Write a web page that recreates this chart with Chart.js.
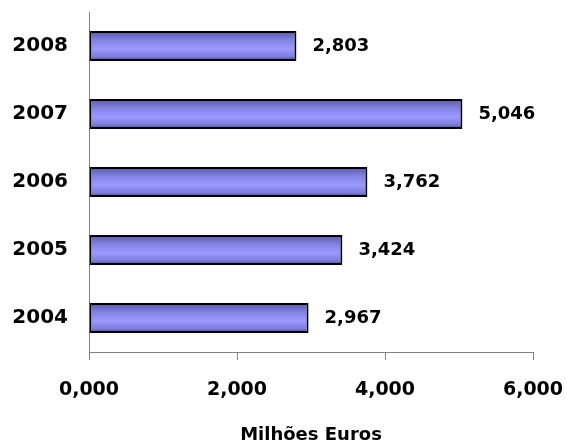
<!DOCTYPE html>
<html>
<head>
<meta charset="utf-8">
<script src="https://cdn.jsdelivr.net/npm/chart.js@4.4.0/dist/chart.umd.min.js"></script>
<style>
  html, body { margin: 0; padding: 0; background: #fff; }
  #wrap { width: 567px; height: 446px; }
</style>
</head>
<body>
<div id="wrap"><canvas id="c"></canvas></div>
<script>
// dados do gráfico
const anos = ['2008', '2007', '2006', '2005', '2004'];
const valores = [2803, 5046, 3762, 3424, 2967];
const rotulosValores = ['2,803', '5,046', '3,762', '3,424', '2,967'];
const ticksX = [0, 2000, 4000, 6000];
const rotulosTicksX = ['0,000', '2,000', '4,000', '6,000'];

const FONTE = "'DejaVu Sans', Arial, sans-serif";
const ESPESSURA = 0.44;

// gradiente vertical de cada barra (escuro nas bordas, claro no meio)
function corBarra(context) {
    const chart = context.chart;
    const y = chart.scales.y;
    if (!chart.chartArea || !y) return '#9999ff';
    const meio = y.getPixelForValue(context.dataIndex);
    const meiaAltura = (y.bottom - y.top) / anos.length * ESPESSURA / 2;
    const g = chart.ctx.createLinearGradient(0, meio - meiaAltura, 0, meio + meiaAltura);
    g.addColorStop(0, '#5656a6');
    g.addColorStop(0.3, '#8282e2');
    g.addColorStop(0.6, '#9a9aff');
    g.addColorStop(0.85, '#7d7dda');
    g.addColorStop(1, '#4a4a96');
    return g;
}

// escreve o valor à direita de cada barra
const rotulosPlugin = {
    id: 'rotulos',
    afterDatasetsDraw(chart) {
        const ctx = chart.ctx;
        const meta = chart.getDatasetMeta(0);
        ctx.save();
        ctx.font = 'bold 18px ' + FONTE;
        ctx.fillStyle = '#000';
        ctx.textAlign = 'left';
        ctx.textBaseline = 'middle';
        meta.data.forEach((bar, i) => {
            ctx.fillText(rotulosValores[i], bar.x + 16, bar.y);
        });
        ctx.restore();
    }
};

new Chart(document.getElementById('c'), {
    type: 'bar',
    data: {
        labels: anos,
        datasets: [{
            data: valores,
            backgroundColor: corBarra,
            borderColor: '#000',
            borderWidth: 2,
            borderSkipped: false,
            categoryPercentage: 1,
            barPercentage: ESPESSURA
        }]
    },
    options: {
        indexAxis: 'y',
        responsive: true,
        maintainAspectRatio: false,
        animation: false,
        layout: { padding: { top: 12, right: 34, left: 0, bottom: 0 } },
        plugins: {
            legend: { display: false },
            tooltip: { enabled: false }
        },
        scales: {
            x: {
                min: 0,
                max: 6000,
                afterBuildTicks: (scale) => { scale.ticks = ticksX.map(v => ({ value: v })); },
                afterFit: (scale) => {
                    scale.height = 94;
                    scale.paddingLeft = 0;
                    scale.paddingRight = 0;
                },
                ticks: {
                    padding: 19,
                    color: '#000',
                    font: { family: FONTE, size: 19, weight: 'bold' },
                    maxRotation: 0,
                    callback: (v) => rotulosTicksX[ticksX.indexOf(v)]
                },
                grid: {
                    drawOnChartArea: false,
                    drawTicks: true,
                    tickLength: 8,
                    color: '#808080'
                },
                border: { display: true, color: '#808080', width: 1 },
                title: {
                    display: true,
                    text: 'Milhões Euros',
                    color: '#000',
                    font: { family: FONTE, size: 18, weight: 'bold' },
                    padding: { top: 0, bottom: 0 }
                }
            },
            y: {
                afterFit: (scale) => {
                    scale.width = 89;
                    scale.paddingTop = 0;
                    scale.paddingBottom = 0;
                },
                ticks: {
                    padding: 21,
                    color: '#000',
                    font: { family: FONTE, size: 20, weight: 'bold' }
                },
                grid: { display: false, drawTicks: false },
                border: { display: true, color: '#808080', width: 1 }
            }
        }
    },
    plugins: [rotulosPlugin]
});
</script>
</body>
</html>
